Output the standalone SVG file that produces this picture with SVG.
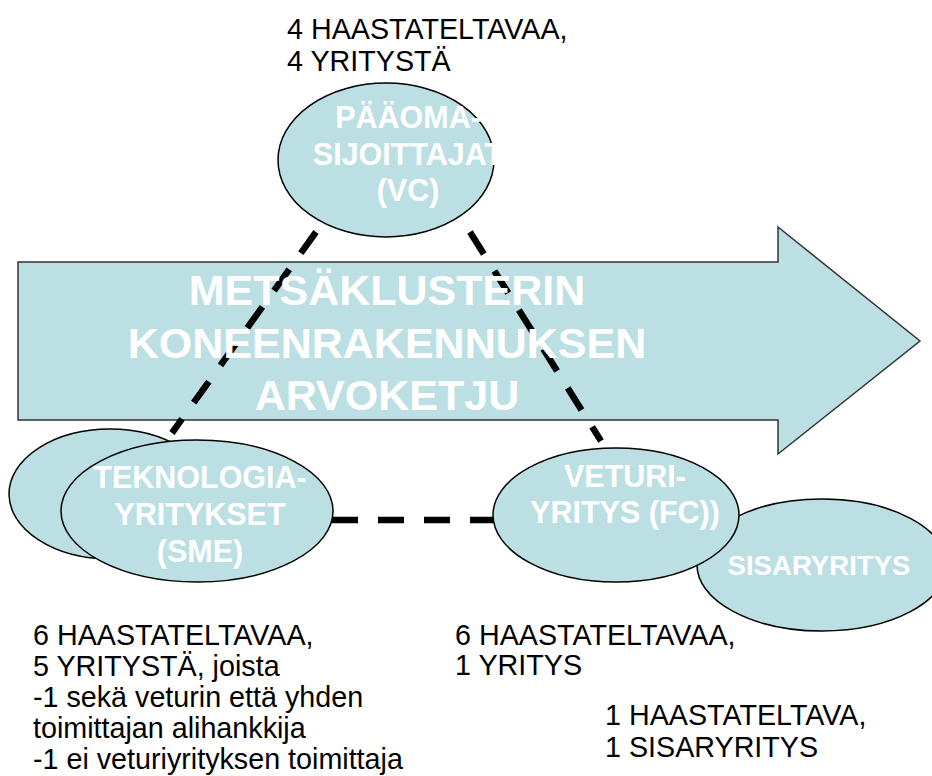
<svg xmlns="http://www.w3.org/2000/svg" width="932" height="776" viewBox="0 0 932 776">
  <style>
    .shape { fill: #BBDFE3; stroke: #000; stroke-width: 1.5; }
    .arrow { fill: #BBDFE3; stroke: #333; stroke-width: 1.5; }
    .in { font-family: "Liberation Sans", Arial, sans-serif; font-weight: bold; fill: #fff; text-anchor: middle; }
    .big { font-size: 43px; }
    .node { font-size: 30.5px; }
    .note { font-family: "Liberation Sans", Arial, sans-serif; font-size: 28.7px; fill: #000; }
    .dash { stroke: #000; stroke-width: 6.5; fill: none; stroke-dasharray: 26 20; }
  </style>

  <!-- value chain arrow -->
  <g id="value-chain">
    <path class="arrow" d="M18,262 H778 V227 L920,341 L778,454 V420 H18 Z"/>
  </g>

  <!-- dashed relations between the actors -->
  <g id="connectors">
    <line class="dash" x1="316" y1="232" x2="172" y2="433"/>
    <line class="dash" x1="470" y1="232" x2="601" y2="441"/>
    <line class="dash" x1="332" y1="520" x2="496" y2="520" stroke-dasharray="27 20"/>
  </g>

  <g id="value-chain-label">
    <text class="in big" x="387" y="305">METSÄKLUSTERIN</text>
    <text class="in big" x="387" y="358">KONEENRAKENNUKSEN</text>
    <text class="in big" x="387" y="410">ARVOKETJU</text>
  </g>

  <!-- venture capital -->
  <g id="vc">
    <ellipse class="shape" cx="386" cy="160" rx="108" ry="77"/>
    <text class="in node" x="408" y="128">PÄÄOMA-</text>
    <text class="in node" x="408" y="165">SIJOITTAJAT</text>
    <text class="in node" x="408" y="201">(VC)</text>
  </g>

  <!-- technology SMEs (stacked) -->
  <g id="sme">
    <ellipse class="shape" cx="110" cy="494" rx="101" ry="65"/>
    <ellipse class="shape" cx="197" cy="511" rx="136" ry="71"/>
    <text class="in node" x="200" y="488">TEKNOLOGIA-</text>
    <text class="in node" x="200" y="525">YRITYKSET</text>
    <text class="in node" x="200" y="562">(SME)</text>
  </g>

  <!-- sister company -->
  <g id="sister">
    <ellipse class="shape" cx="822" cy="565" rx="125" ry="66"/>
    <text class="in" font-size="27.6" x="819" y="575">SISARYRITYS</text>
  </g>

  <!-- focal company -->
  <g id="fc">
    <ellipse class="shape" cx="616" cy="515" rx="123" ry="67"/>
    <text class="in node" x="625" y="487">VETURI-</text>
    <text class="in node" x="625" y="523">YRITYS (FC))</text>
  </g>

  <!-- interview counts -->
  <g id="notes">
    <text class="note" x="287" y="39">4 HAASTATELTAVAA,</text>
    <text class="note" x="287" y="71">4 YRITYSTÄ</text>

    <text class="note" x="33" y="645">6 HAASTATELTAVAA,</text>
    <text class="note" x="33" y="676">5 YRITYSTÄ, joista</text>
    <text class="note" x="33" y="707">-1 sekä veturin että yhden</text>
    <text class="note" x="33" y="738">toimittajan alihankkija</text>
    <text class="note" x="33" y="769">-1 ei veturiyrityksen toimittaja</text>

    <text class="note" x="455" y="645">6 HAASTATELTAVAA,</text>
    <text class="note" x="455" y="675">1 YRITYS</text>

    <text class="note" x="605" y="725">1 HAASTATELTAVA,</text>
    <text class="note" x="605" y="757">1 SISARYRITYS</text>
  </g>
</svg>
